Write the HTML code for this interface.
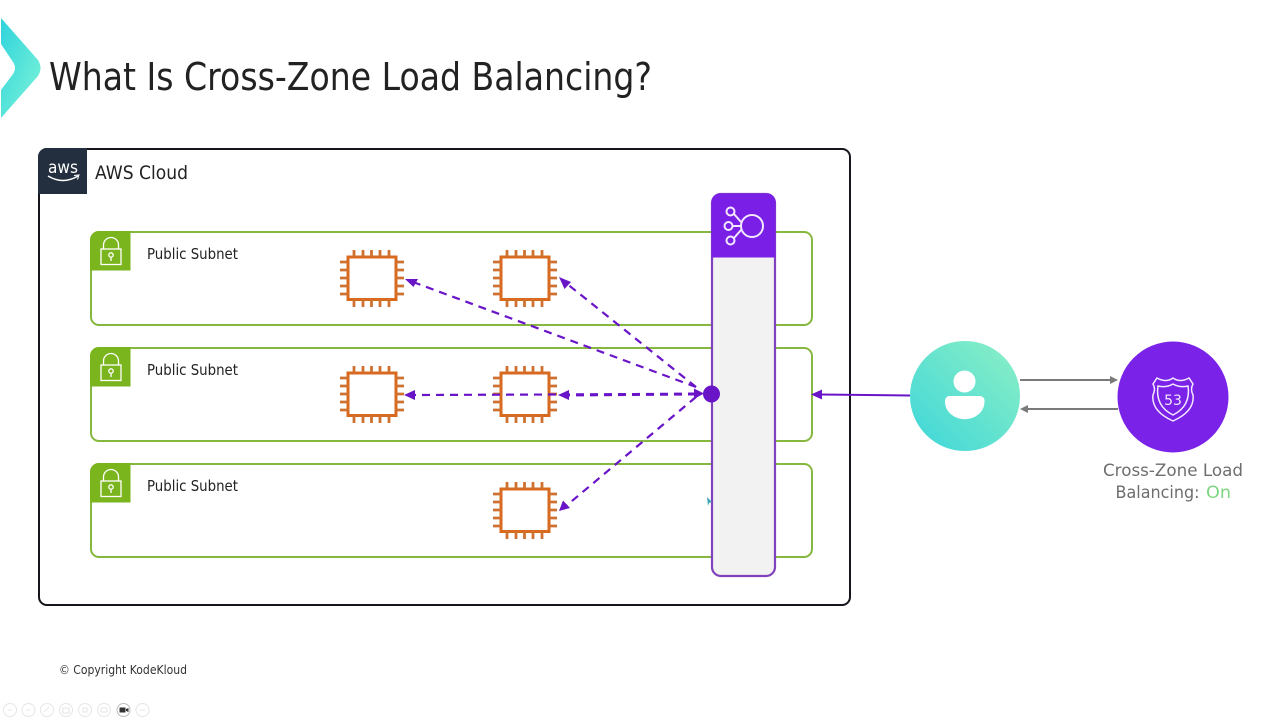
<!DOCTYPE html>
<html>
<head>
<meta charset="utf-8">
<title>What Is Cross-Zone Load Balancing?</title>
<style>
html,body{margin:0;padding:0;background:#fff;width:1280px;height:720px;overflow:hidden}
svg{display:block}
text{font-family:"DejaVu Sans","Liberation Sans",sans-serif}
</style>
</head>
<body>
<svg width="1280" height="720" viewBox="0 0 1280 720" xmlns="http://www.w3.org/2000/svg">
<defs>
<linearGradient id="lg" x1="0" y1="0" x2="1" y2="1">
<stop offset="0" stop-color="#2fd3dc"/><stop offset="1" stop-color="#7ff5d8"/>
</linearGradient>
<linearGradient id="ug" x1="0" y1="1" x2="1" y2="0">
<stop offset="0" stop-color="#3dd6da"/><stop offset="1" stop-color="#8df0c4"/>
</linearGradient>
<g id="chip" fill="none" stroke="#d9691c">
<rect x="348" y="257" width="48" height="42.500" stroke-width="3"/>
<path stroke-width="2.800" stroke="#cf7130" d="M354 250v7M363 250v7M371.500 250v7M380 250v7M389 250v7M354 299v8M363 299v8M371.500 299v8M380 299v8M389 299v8M340 262h8M340 270h8M340 278h8M340 286h8M340 294h8M396 262h8M396 270h8M396 278h8M396 286h8M396 294h8"/>
</g>
<g id="subnet">
<rect x="91" y="232" width="721" height="93" rx="8" fill="none" stroke="#86b83f" stroke-width="2"/>
<path d="M99 231H130.500V270.500H90V240a9 9 0 0 1 9-9z" fill="#7ab51d"/>
<g fill="none" stroke="#fff" stroke-width="1.300">
<rect x="101" y="249" width="20" height="15.500"/>
<path d="M103.500 249v-4a7.500 7.500 0 0 1 15 0v4"/>
<circle cx="111" cy="255" r="2.200"/><path d="M111 257v4"/>
</g>
<text x="147" y="259" font-size="15" fill="#222" textLength="91" lengthAdjust="spacingAndGlyphs">Public Subnet</text>
</g>
</defs>

<!-- corner logo -->
<path d="M1 18L38 60Q43 68 38 76L1 118V90L13 74Q17 68 13 62L1 44Z" fill="url(#lg)"/>

<text x="49" y="90" font-size="38" fill="#222" textLength="603" lengthAdjust="spacingAndGlyphs">What Is Cross-Zone Load Balancing?</text>

<!-- AWS cloud -->
<rect x="39" y="149" width="811" height="456" rx="8" fill="#fff" stroke="#15151b" stroke-width="2"/>
<path d="M47 148H87V194H38V157a9 9 0 0 1 9-9z" fill="#232f3e"/>
<text x="48" y="173" font-size="17" fill="#fff" textLength="30" lengthAdjust="spacingAndGlyphs">aws</text>
<path d="M48 176Q63 185 78 176" fill="none" stroke="#fff" stroke-width="1.500"/>
<path d="M74 175.500L79 175L77.500 179.500" fill="none" stroke="#fff" stroke-width="1"/>
<text x="95" y="179" font-size="19" fill="#222" textLength="93" lengthAdjust="spacingAndGlyphs">AWS Cloud</text>

<!-- subnets -->
<use href="#subnet"/>
<use href="#subnet" y="116"/>
<use href="#subnet" y="232"/>

<!-- chips -->
<use href="#chip"/>
<use href="#chip" x="153"/>
<use href="#chip" y="116"/>
<use href="#chip" x="153" y="116"/>
<use href="#chip" x="153" y="232"/>

<!-- load balancer -->
<rect x="712" y="194" width="63" height="382" rx="9" fill="#f2f2f3" stroke="#8142bd" stroke-width="2.200"/>
<path d="M720 193.500H767a8.500 8.500 0 0 1 8.500 8.500V257.500H711.500V202a8.500 8.500 0 0 1 8.500-8.500z" fill="#7a1fe6"/>
<g fill="none" stroke="#f3e8ff" stroke-width="2">
<circle cx="752" cy="226" r="11"/>
<circle cx="730.500" cy="211.500" r="4"/>
<circle cx="728.500" cy="226" r="4"/>
<circle cx="730.500" cy="240.500" r="4"/>
<path d="M734 214L741 222M734 238L741 230M732.500 226H741"/>
</g>

<!-- dashed connectors -->
<g fill="none" stroke="#6a14c8" stroke-width="2.200" stroke-dasharray="8 6">
<path d="M696 387L413 282"/>
<path d="M696 387L566 283"/>
<path d="M696 394L412 395"/>
<path d="M696 394L566 395" stroke-width="3"/>
<path d="M696 397L566 506"/>
</g>
<g fill="#6a14c8">
<path d="M405 279L418 279L413.500 287Z"/>
<path d="M559 277L571 282L564.500 289Z"/>
<path d="M404 395L415 390V400Z"/>
<path d="M558 395L569 390V400Z"/>
<path d="M559 511L563 500.500L570 508Z"/>
<path d="M704 393.500L694 388.500V399Z"/>
<circle cx="711.500" cy="394" r="8.500"/>
</g>
<path d="M707 497l5 5-3 1-1 3z" fill="#3fa7b5"/>

<!-- user to balancer -->
<path d="M820 394.500L910 395.500" stroke="#6a14c8" stroke-width="2" fill="none"/>
<path d="M811 394.500L822 389.500V399.500Z" fill="#6a14c8"/>

<!-- user -->
<circle cx="965" cy="396" r="55" fill="url(#ug)"/>
<circle cx="964.500" cy="381.500" r="11" fill="#fff"/>
<path d="M950 396H979Q985 396 984.500 402A19.500 17 0 0 1 945 402Q945 396 950 396Z" fill="#fff"/>

<!-- route 53 -->
<circle cx="1173" cy="397" r="55.500" fill="#7a22e8"/>
<g fill="none" stroke="#f3e8ff" stroke-width="1.500">
<path d="M1157 378Q1166 383 1173 378Q1180 383 1189 378L1193 384Q1190 389 1193 395Q1195 411 1173 421Q1151 411 1153 395Q1156 389 1153 384Z"/>
<path d="M1158 386Q1166 388 1173 384Q1180 388 1188 386Q1191 406 1173 415Q1155 406 1158 386Z"/>
</g>
<text x="1173" y="405" font-size="14" fill="#f3e8ff" text-anchor="middle">53</text>

<!-- route arrows -->
<path d="M1020 380H1111" stroke="#7a7a7a" stroke-width="2" fill="none"/>
<path d="M1118 380L1110 376V384Z" fill="#7a7a7a"/>
<path d="M1028 409H1118" stroke="#7a7a7a" stroke-width="2" fill="none"/>
<path d="M1020 409L1028 405V413Z" fill="#7a7a7a"/>

<!-- caption -->
<text x="1173" y="476" font-size="17" fill="#6e6e6e" text-anchor="middle" textLength="140" lengthAdjust="spacingAndGlyphs">Cross-Zone Load</text>
<text x="1115.500" y="498" font-size="17" fill="#6e6e6e" textLength="84" lengthAdjust="spacingAndGlyphs">Balancing:</text>
<text x="1206" y="498" font-size="17" fill="#7ed67e" textLength="25" lengthAdjust="spacingAndGlyphs">On</text>

<!-- footer -->
<text x="59" y="674" font-size="12.500" fill="#333" textLength="128" lengthAdjust="spacingAndGlyphs">© Copyright KodeKloud</text>

<!-- toolbar -->
<g fill="none" stroke="#e6e6e6" stroke-width="1">
<circle cx="10" cy="710" r="6.500"/>
<circle cx="28.500" cy="710" r="6.500"/>
<circle cx="47" cy="710" r="6.500"/>
<circle cx="66" cy="710" r="6.500"/>
<circle cx="85" cy="710" r="6.500"/>
<circle cx="104" cy="710" r="6.500"/>
<circle cx="142.500" cy="710" r="6.500"/>
<path d="M8 710h4M26.500 710h4M44 712l5-5M63 708h6v5h-6zM83 708h4v4h-4zM101 708h6v4h-6zM139.500 710h6"/>
</g>
<circle cx="123.500" cy="710" r="6.500" fill="#fff" stroke="#bdbdbd"/>
<rect x="119.500" y="707.500" width="6" height="5" fill="#333"/>
<path d="M126 709l2.500-1v4l-2.500-1z" fill="#333"/>
</svg>
</body>
</html>
